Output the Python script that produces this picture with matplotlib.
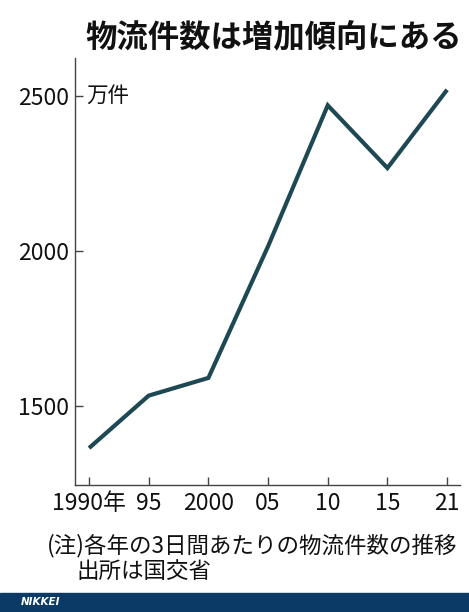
import matplotlib
matplotlib.use("Agg")
import matplotlib.pyplot as plt
from matplotlib.patches import Rectangle

plt.rcParams['font.family'] = ['Noto Sans CJK JP', 'DejaVu Sans']

# data (万件)
years = ['1990年', '95', '2000', '05', '10', '15', '21']
counts = [1366, 1535, 1592, 2016, 2470, 2268, 2520]
yticks = [1500, 2000, 2500]

title = '物流件数は増加傾向にある'
note1 = '(注)各年の3日間あたりの物流件数の推移'
note2 = '出所は国交省'

line_col = '#1e4853'
fig = plt.figure(figsize=(4.69, 6.12), dpi=100)
ax = fig.add_axes([0.16, 0.2075, 0.821, 0.6975])

x = list(range(len(years)))
ax.plot(x, counts, color=line_col, lw=3.0, solid_capstyle='butt', solid_joinstyle='miter')

ax.set_xlim(-0.235, 6.218)
ax.set_ylim(1247, 2622)
ax.set_xticks(x)
ax.set_xticklabels(years)
ax.set_yticks(yticks)
ax.set_yticklabels([str(v) for v in yticks])

for s in ['top', 'right']:
    ax.spines[s].set_visible(False)
for s in ['left', 'bottom']:
    ax.spines[s].set_color('#444444')
    ax.spines[s].set_linewidth(1.0)
ax.tick_params(axis='both', direction='in', length=6, width=1.0, color='#444444',
               labelsize=16.5, labelcolor='#111111')
ax.tick_params(axis='x', pad=5)
ax.tick_params(axis='y', pad=4)

ax.text(0.03, 2500, '万件', fontsize=15.5, va='center', ha='left', color='#111111',
        transform=ax.get_yaxis_transform())

fig.text(0.985, 0.937, title, fontsize=22.6, fontweight='bold', ha='right', va='center', color='#111111')
fig.text(0.100, 0.108, note1, fontsize=16.2, ha='left', va='center', color='#111111')
fig.text(0.163, 0.067, note2, fontsize=16.2, ha='left', va='center', color='#111111')

fig.patches.append(Rectangle((0, 0), 1, 0.031, transform=fig.transFigure, color='#0c3a66', zorder=0))
fig.text(0.045, 0.016, 'NIKKEI', fontsize=7.5, fontweight='bold', style='italic', color='white',
         ha='left', va='center', family='DejaVu Sans')

fig.savefig('out.png', dpi=100)
